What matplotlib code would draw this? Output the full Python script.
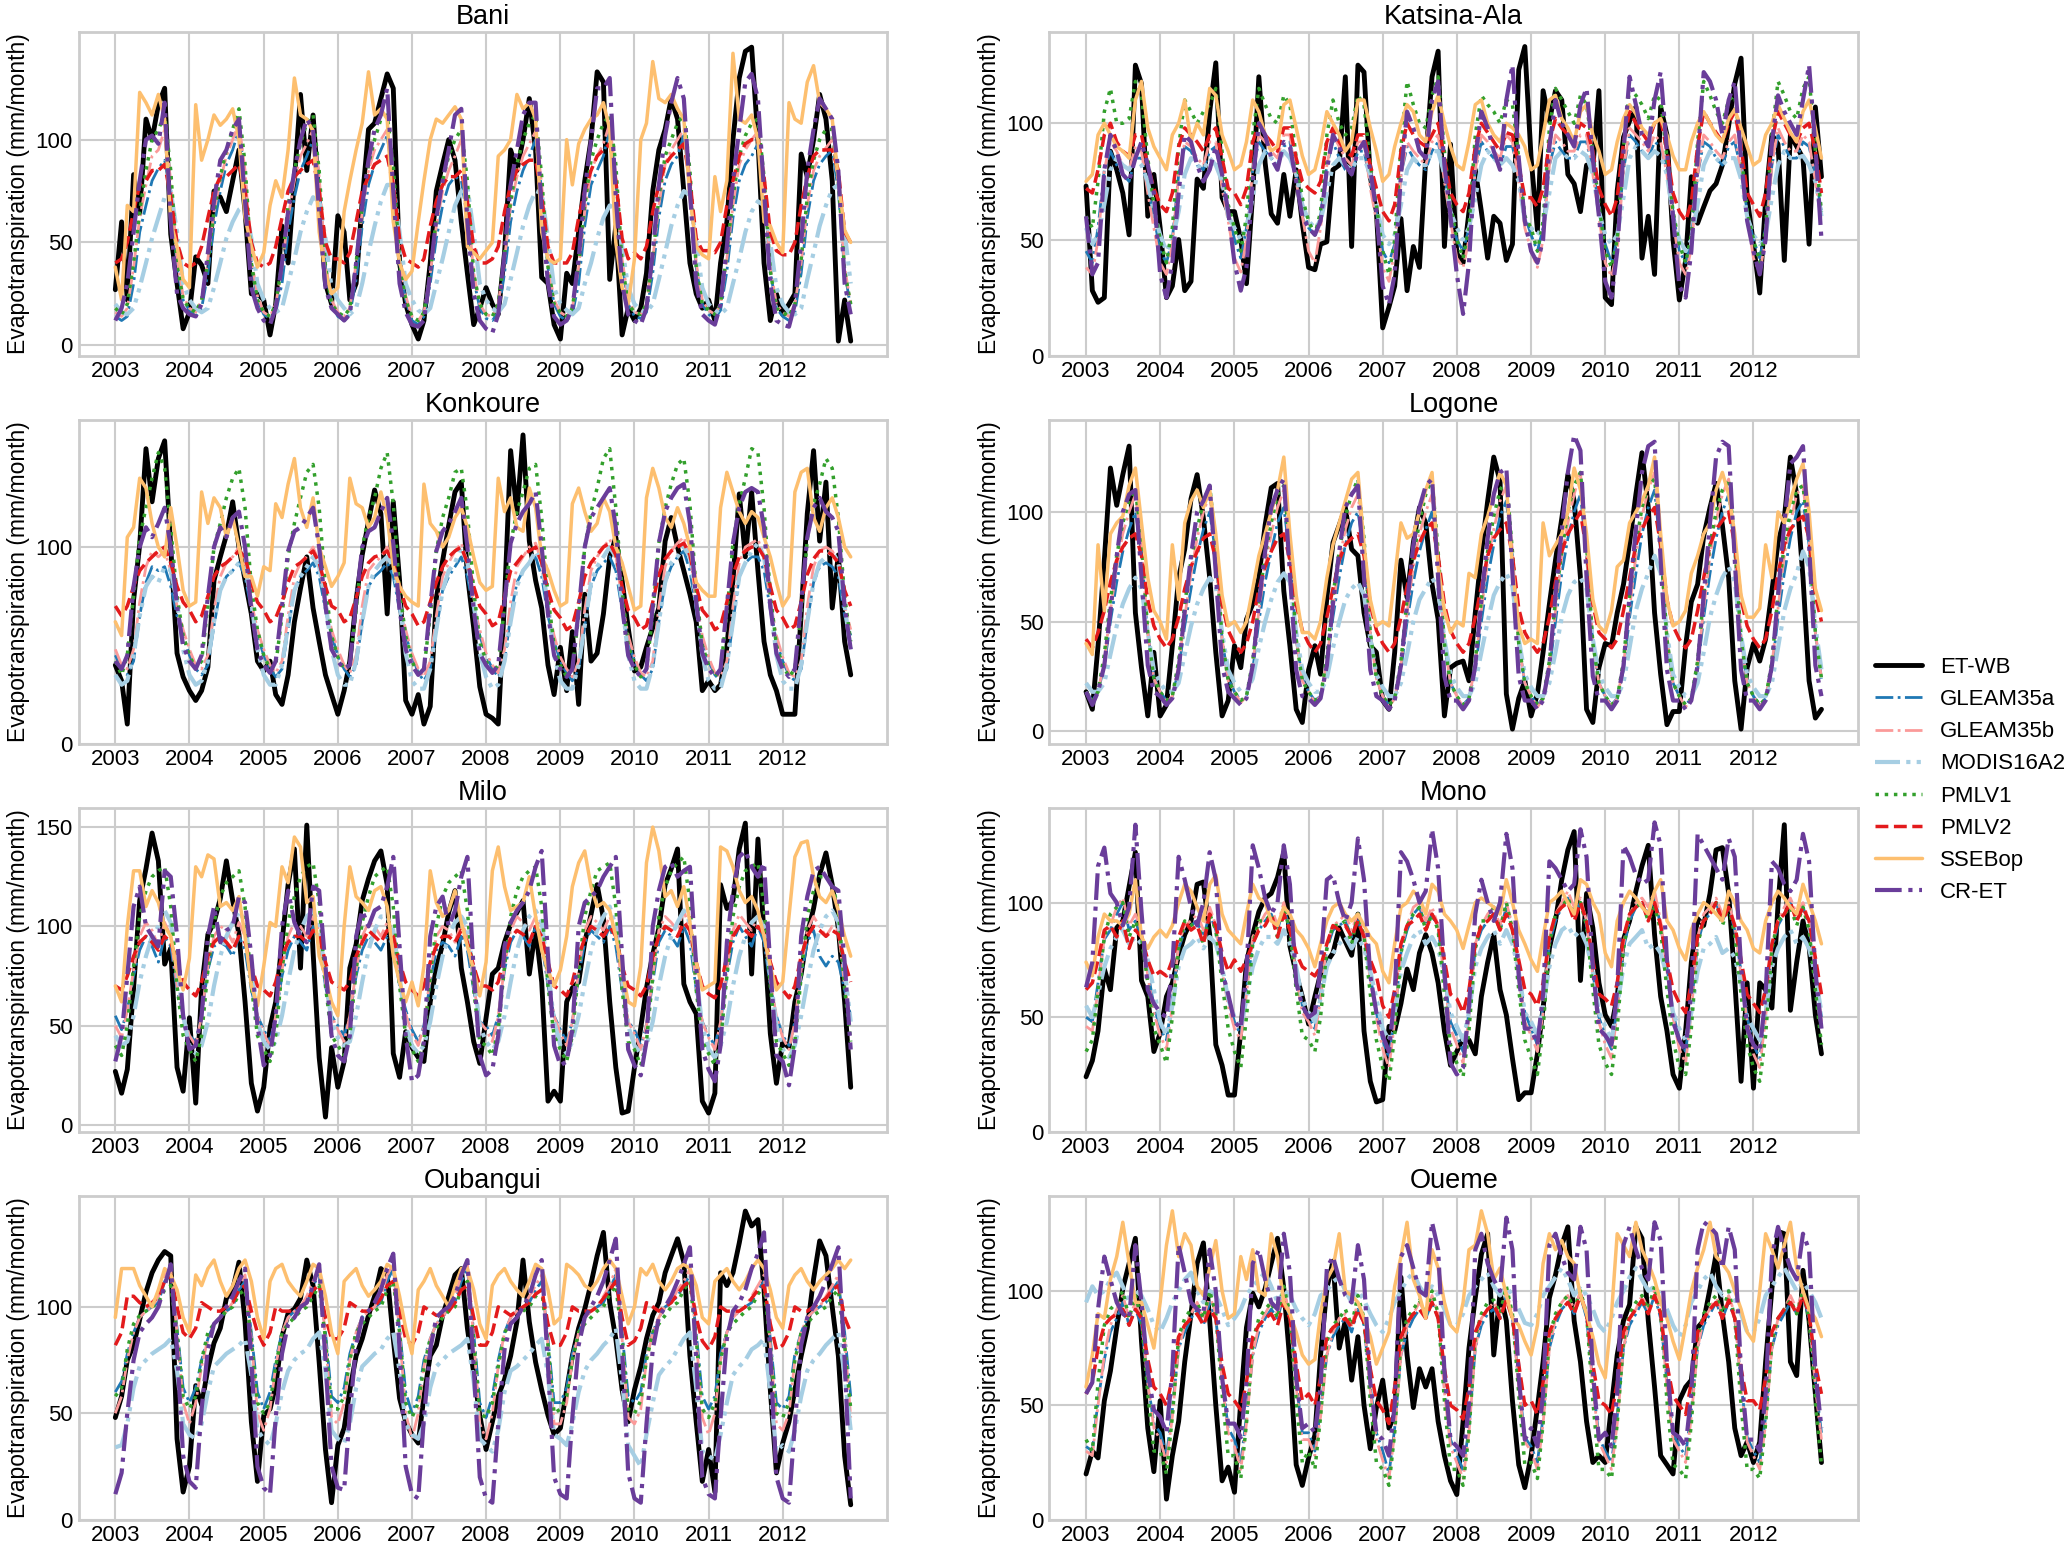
import numpy as np
import pandas as pd
import matplotlib
matplotlib.use('Agg')
import matplotlib.pyplot as plt

# Monthly ET (mm/month), Jan 2003 - Dec 2012
months = pd.date_range('2003-01-01', periods=120, freq='MS')
years = list(range(2003, 2013))
basins = ['Bani', 'Katsina-Ala', 'Konkoure', 'Logone', 'Milo', 'Mono', 'Oubangui', 'Oueme']
products = ['ET-WB', 'GLEAM35a', 'GLEAM35b', 'MODIS16A2', 'PMLV1', 'PMLV2', 'SSEBop', 'CR-ET']
ytick_sets = [[0, 50, 100], [0, 50, 100], [0, 100], [0, 50, 100],
              [0, 50, 100, 150], [0, 50, 100], [0, 50, 100], [0, 50, 100]]

# ---------------- Bani ----------------
bani_etwb = [27, 60, 22, 83, 64, 110, 100, 117, 125, 54, 30, 8,
             16, 43, 39, 30, 75, 72, 65, 80, 95, 65, 25, 25,
             22, 5, 20, 58, 40, 80, 122, 85, 112, 70, 30, 20,
             63, 55, 22, 30, 70, 105, 108, 120, 132, 125, 40, 20,
             10, 3, 12, 40, 75, 88, 100, 90, 60, 35, 10, 18,
             28, 20, 15, 45, 95, 85, 100, 120, 95, 33, 30, 10,
             3, 35, 30, 55, 80, 100, 133, 128, 32, 58, 5, 18,
             12, 18, 35, 75, 95, 105, 120, 110, 75, 40, 25, 18,
             22, 12, 40, 60, 100, 130, 143, 145, 100, 40, 12, 25,
             15, 20, 25, 93, 82, 100, 122, 110, 80, 2, 22, 2]
bani_gleam35a = [14, 12, 14, 30, 55, 68, 80, 86, 90, 75, 38, 22,
                 17, 14, 18, 35, 58, 75, 88, 95, 105, 82, 40, 22,
                 15, 13, 16, 30, 55, 72, 85, 92, 100, 78, 38, 20,
                 14, 12, 15, 32, 58, 78, 88, 95, 102, 80, 40, 22,
                 12, 10, 14, 30, 52, 68, 78, 82, 80, 62, 32, 18,
                 13, 12, 16, 35, 60, 75, 85, 92, 100, 75, 38, 20,
                 14, 12, 15, 30, 58, 78, 85, 92, 105, 80, 40, 20,
                 14, 13, 16, 35, 62, 80, 88, 92, 102, 80, 38, 20,
                 15, 13, 17, 36, 62, 80, 88, 92, 98, 78, 36, 18,
                 14, 12, 16, 35, 62, 80, 88, 92, 95, 75, 36, 18]
bani_gleam35b = [16, 14, 18, 38, 62, 78, 92, 95, 105, 80, 42, 24,
                 18, 16, 22, 42, 65, 80, 92, 100, 108, 85, 42, 24,
                 16, 14, 20, 38, 62, 80, 92, 98, 105, 82, 40, 22,
                 16, 14, 18, 40, 65, 85, 95, 100, 105, 82, 42, 24,
                 14, 12, 16, 35, 58, 75, 85, 92, 100, 70, 35, 20,
                 15, 14, 20, 42, 68, 82, 92, 98, 104, 78, 40, 22,
                 16, 14, 18, 38, 65, 85, 92, 98, 108, 82, 42, 22,
                 16, 15, 20, 42, 68, 88, 95, 100, 105, 82, 40, 22,
                 17, 15, 20, 42, 68, 88, 95, 100, 104, 80, 38, 20,
                 16, 14, 20, 40, 68, 85, 92, 96, 100, 78, 38, 20]
bani_modis = [20, 16, 15, 18, 28, 40, 52, 62, 72, 75, 55, 30,
              22, 18, 16, 18, 28, 40, 52, 60, 66, 68, 52, 30,
              22, 18, 16, 18, 30, 42, 55, 65, 72, 70, 52, 28,
              22, 18, 15, 18, 30, 45, 58, 70, 78, 78, 55, 30,
              22, 17, 15, 18, 30, 42, 55, 68, 75, 77, 55, 30,
              22, 18, 16, 20, 32, 45, 58, 68, 75, 74, 52, 28,
              20, 17, 15, 18, 30, 40, 52, 62, 68, 66, 48, 28,
              20, 17, 16, 20, 32, 45, 58, 68, 75, 73, 50, 28,
              20, 17, 15, 18, 30, 42, 55, 65, 70, 68, 50, 28,
              20, 16, 15, 18, 32, 45, 58, 68, 76, 78, 55, 30]
bani_pmlv1 = [18, 15, 20, 40, 65, 85, 100, 105, 112, 85, 40, 22,
              18, 16, 22, 40, 65, 82, 95, 105, 115, 88, 40, 22,
              16, 14, 20, 40, 68, 85, 98, 108, 112, 85, 38, 20,
              16, 14, 18, 40, 68, 88, 100, 110, 112, 88, 40, 22,
              14, 12, 16, 35, 62, 80, 92, 100, 105, 80, 35, 20,
              15, 14, 20, 45, 70, 88, 100, 108, 112, 82, 38, 20,
              16, 14, 18, 40, 68, 90, 100, 108, 112, 88, 40, 20,
              16, 15, 20, 42, 72, 92, 100, 108, 112, 85, 38, 20,
              17, 15, 20, 45, 72, 92, 102, 108, 110, 82, 36, 18,
              16, 14, 20, 42, 72, 90, 100, 105, 105, 80, 36, 20]
bani_pmlv2 = [40, 42, 50, 65, 78, 80, 85, 85, 88, 72, 50, 40,
              38, 40, 48, 62, 75, 82, 82, 85, 88, 75, 50, 40,
              38, 40, 48, 62, 75, 82, 85, 88, 90, 75, 50, 42,
              42, 40, 45, 60, 75, 82, 88, 90, 92, 78, 52, 42,
              40, 38, 42, 58, 70, 78, 82, 82, 85, 70, 48, 40,
              40, 42, 48, 65, 78, 85, 88, 90, 90, 72, 48, 40,
              40, 40, 45, 62, 75, 85, 92, 95, 98, 80, 52, 42,
              45, 42, 48, 65, 78, 88, 92, 95, 98, 80, 52, 46,
              46, 45, 50, 68, 80, 92, 98, 100, 100, 82, 55, 46,
              44, 44, 50, 68, 82, 92, 95, 95, 95, 85, 55, 50]
bani_ssebop = [38, 22, 68, 65, 123, 118, 112, 122, 110, 60, 48, 32,
               28, 117, 90, 100, 112, 107, 110, 115, 100, 62, 48, 38,
               45, 68, 80, 72, 95, 130, 112, 110, 104, 55, 35, 25,
               28, 65, 80, 95, 108, 133, 112, 115, 110, 60, 40, 32,
               36, 60, 80, 100, 110, 108, 112, 116, 110, 48, 45, 42,
               46, 50, 92, 95, 100, 122, 115, 118, 110, 55, 42, 40,
               42, 100, 78, 98, 105, 110, 112, 118, 105, 50, 28, 20,
               42, 100, 108, 138, 120, 118, 122, 115, 110, 72, 48, 44,
               42, 82, 65, 80, 142, 110, 108, 112, 100, 60, 58, 50,
               45, 118, 110, 108, 128, 136, 118, 115, 110, 80, 56, 50]
bani_cret = [12, 18, 30, 55, 80, 100, 102, 98, 118, 60, 25, 18,
             15, 14, 20, 45, 70, 90, 95, 105, 110, 70, 28, 18,
             12, 10, 18, 40, 65, 85, 100, 110, 105, 65, 28, 18,
             15, 12, 15, 40, 68, 90, 105, 112, 125, 75, 30, 16,
             10, 9, 12, 35, 62, 80, 95, 112, 115, 60, 25, 12,
             8, 6, 15, 45, 78, 95, 112, 118, 118, 65, 30, 14,
             10, 12, 18, 42, 75, 100, 125, 125, 130, 72, 30, 15,
             12, 10, 18, 45, 78, 102, 118, 130, 120, 75, 30, 15,
             12, 10, 20, 48, 80, 105, 128, 132, 120, 75, 30, 12,
             10, 9, 20, 50, 85, 105, 120, 115, 110, 85, 30, 15]

# ---------------- Katsina-Ala ----------------
katsina_etwb = [73, 28, 23, 25, 88, 80, 70, 52, 125, 117, 60, 78,
                55, 25, 30, 50, 28, 32, 76, 72, 105, 126, 68, 62,
                62, 50, 31, 70, 120, 83, 61, 57, 78, 60, 80, 57,
                38, 37, 48, 49, 80, 82, 120, 47, 125, 122, 77, 62,
                12, 21, 30, 59, 28, 47, 38, 85, 120, 131, 47, 91,
                44, 40, 62, 80, 62, 42, 60, 57, 41, 48, 123, 133,
                85, 54, 114, 101, 114, 110, 78, 74, 62, 82, 81, 114,
                25, 22, 71, 94, 101, 107, 42, 60, 35, 107, 95, 50,
                24, 41, 77, 57, 64, 71, 74, 82, 99, 117, 128, 68,
                48, 27, 67, 95, 91, 41, 95, 90, 85, 48, 107, 77]
katsina_gleam35a = [45, 40, 55, 80, 88, 82, 78, 75, 85, 85, 72, 60,
                    45, 40, 50, 78, 90, 88, 82, 80, 88, 90, 75, 62,
                    50, 42, 55, 80, 92, 88, 85, 82, 90, 92, 78, 65,
                    55, 52, 60, 82, 92, 85, 80, 78, 88, 88, 75, 62,
                    45, 40, 48, 78, 90, 85, 82, 80, 88, 92, 78, 62,
                    50, 45, 55, 80, 92, 88, 85, 82, 90, 90, 78, 60,
                    52, 45, 55, 82, 92, 88, 85, 85, 92, 92, 80, 65,
                    48, 40, 50, 80, 95, 92, 88, 85, 92, 90, 80, 62,
                    45, 40, 50, 78, 92, 90, 85, 82, 90, 92, 80, 62,
                    50, 42, 55, 82, 95, 90, 85, 85, 92, 90, 78, 62]
katsina_gleam35b = [38, 35, 50, 80, 92, 88, 82, 80, 90, 88, 70, 55,
                    40, 35, 48, 78, 92, 90, 85, 82, 92, 92, 72, 58,
                    42, 36, 50, 80, 95, 92, 88, 85, 95, 95, 75, 60,
                    45, 40, 55, 82, 95, 90, 85, 82, 92, 92, 72, 58,
                    38, 32, 45, 78, 92, 88, 85, 82, 92, 95, 75, 58,
                    42, 38, 50, 80, 95, 92, 88, 85, 95, 92, 75, 55,
                    45, 38, 50, 82, 95, 92, 88, 88, 95, 95, 78, 60,
                    40, 34, 45, 80, 98, 95, 92, 88, 95, 92, 78, 58,
                    40, 35, 46, 78, 95, 92, 88, 85, 92, 95, 78, 60,
                    42, 36, 50, 82, 98, 92, 88, 88, 95, 92, 75, 58]
katsina_modis = [55, 48, 52, 65, 80, 85, 82, 80, 85, 82, 75, 62,
                 52, 45, 50, 62, 78, 85, 82, 80, 85, 82, 75, 60,
                 55, 50, 55, 68, 82, 88, 85, 82, 88, 85, 78, 65,
                 58, 55, 58, 70, 82, 85, 82, 80, 85, 85, 78, 65,
                 52, 48, 52, 65, 80, 85, 82, 82, 88, 88, 78, 62,
                 55, 50, 55, 68, 82, 88, 85, 82, 85, 82, 75, 58,
                 55, 52, 56, 70, 85, 88, 85, 85, 88, 86, 78, 62,
                 52, 48, 52, 68, 85, 90, 88, 85, 88, 86, 78, 60,
                 50, 45, 50, 65, 82, 88, 85, 82, 85, 85, 76, 60,
                 52, 48, 52, 68, 82, 88, 85, 85, 86, 82, 75, 60]
katsina_pmlv1 = [60, 55, 75, 105, 115, 100, 100, 102, 118, 112, 85, 65,
                 50, 40, 55, 90, 110, 105, 100, 105, 108, 115, 88, 65,
                 55, 45, 60, 95, 115, 108, 102, 100, 112, 108, 85, 68,
                 58, 52, 62, 95, 110, 100, 95, 98, 112, 108, 82, 65,
                 45, 35, 50, 90, 118, 108, 100, 98, 112, 120, 88, 65,
                 50, 42, 55, 95, 112, 108, 105, 100, 110, 108, 85, 60,
                 55, 45, 58, 98, 115, 110, 105, 100, 112, 108, 88, 65,
                 45, 38, 50, 90, 115, 112, 108, 102, 112, 110, 85, 62,
                 48, 40, 52, 92, 118, 112, 105, 100, 110, 112, 88, 62,
                 50, 40, 55, 95, 118, 112, 105, 102, 115, 120, 88, 62]
katsina_pmlv2 = [72, 70, 80, 95, 100, 92, 88, 86, 95, 95, 82, 72,
                 65, 62, 70, 90, 98, 95, 92, 88, 95, 98, 85, 72,
                 70, 65, 72, 92, 100, 95, 92, 88, 98, 98, 85, 75,
                 72, 70, 75, 92, 98, 92, 88, 86, 95, 95, 82, 72,
                 62, 58, 65, 88, 100, 95, 92, 90, 95, 100, 85, 70,
                 65, 62, 70, 90, 100, 96, 92, 88, 96, 95, 82, 68,
                 68, 64, 72, 92, 102, 98, 95, 92, 100, 98, 88, 72,
                 65, 60, 68, 92, 105, 100, 96, 92, 100, 102, 88, 70,
                 62, 58, 66, 90, 105, 100, 96, 92, 100, 105, 90, 70,
                 65, 60, 70, 92, 105, 100, 95, 92, 98, 100, 88, 70]
katsina_ssebop = [75, 78, 95, 100, 95, 90, 88, 85, 110, 118, 98, 90,
                  85, 80, 95, 100, 110, 92, 100, 95, 115, 112, 95, 88,
                  80, 82, 92, 110, 105, 95, 88, 90, 108, 110, 98, 86,
                  78, 80, 90, 105, 100, 95, 88, 92, 110, 110, 98, 88,
                  75, 78, 90, 100, 108, 105, 95, 92, 105, 112, 100, 90,
                  82, 80, 92, 108, 110, 100, 95, 92, 100, 98, 95, 90,
                  80, 82, 95, 110, 112, 102, 98, 92, 105, 108, 95, 88,
                  78, 80, 92, 102, 108, 104, 98, 95, 100, 102, 95, 86,
                  80, 80, 92, 100, 105, 100, 95, 92, 102, 106, 98, 90,
                  82, 84, 95, 100, 108, 102, 96, 92, 105, 110, 98, 85]
katsina_cret = [60, 35, 40, 80, 95, 88, 78, 75, 85, 92, 82, 70,
                35, 25, 40, 70, 95, 92, 82, 75, 80, 90, 78, 62,
                40, 28, 38, 75, 100, 95, 85, 80, 92, 90, 75, 60,
                55, 52, 58, 80, 95, 90, 82, 78, 88, 92, 80, 62,
                30, 22, 35, 78, 105, 98, 88, 85, 110, 118, 82, 60,
                35, 18, 40, 85, 105, 98, 88, 80, 110, 125, 85, 58,
                45, 40, 50, 90, 110, 100, 95, 90, 108, 115, 85, 60,
                32, 25, 45, 88, 120, 108, 95, 90, 110, 122, 88, 60,
                30, 25, 45, 85, 122, 118, 110, 95, 110, 118, 85, 58,
                45, 35, 50, 92, 112, 105, 100, 95, 110, 125, 90, 50]

# ---------------- Konkoure ----------------
konkoure_etwb = [40, 32, 10, 73, 101, 150, 123, 145, 154, 100, 46, 34,
                 27, 22, 27, 39, 83, 95, 106, 123, 100, 83, 66, 42,
                 37, 42, 25, 20, 35, 62, 79, 95, 69, 52, 35, 25,
                 15, 27, 42, 73, 96, 113, 129, 117, 66, 123, 83, 22,
                 15, 25, 10, 19, 74, 93, 111, 128, 133, 86, 59, 29,
                 15, 13, 10, 73, 149, 117, 157, 103, 83, 69, 40, 25,
                 49, 27, 57, 20, 76, 42, 46, 66, 95, 105, 83, 59,
                 37, 39, 49, 59, 69, 103, 115, 100, 88, 76, 62, 27,
                 32, 27, 30, 49, 83, 127, 95, 128, 88, 52, 35, 27,
                 15, 15, 15, 66, 117, 149, 103, 133, 69, 96, 52, 35]
konkoure_gleam35a = [45, 38, 35, 42, 65, 82, 90, 88, 90, 80, 65, 55,
                     45, 38, 35, 40, 60, 78, 85, 88, 92, 85, 68, 55,
                     45, 38, 34, 38, 58, 78, 85, 88, 92, 85, 68, 55,
                     45, 38, 34, 40, 62, 80, 85, 88, 92, 85, 68, 55,
                     45, 36, 32, 38, 58, 78, 85, 90, 95, 85, 68, 55,
                     45, 38, 34, 42, 65, 82, 88, 92, 95, 85, 65, 52,
                     42, 36, 32, 38, 60, 80, 88, 92, 95, 88, 68, 52,
                     42, 35, 32, 38, 62, 82, 90, 95, 98, 88, 68, 52,
                     42, 35, 32, 38, 62, 85, 92, 95, 95, 88, 68, 52,
                     42, 35, 32, 38, 62, 82, 90, 92, 90, 85, 65, 55]
konkoure_gleam35b = [48, 40, 38, 48, 72, 90, 98, 95, 98, 88, 70, 58,
                     48, 40, 38, 45, 68, 85, 92, 95, 100, 92, 72, 58,
                     48, 40, 36, 42, 65, 85, 92, 95, 100, 92, 72, 58,
                     48, 40, 36, 45, 70, 88, 92, 95, 100, 92, 72, 58,
                     46, 38, 34, 42, 65, 85, 92, 98, 102, 92, 70, 58,
                     46, 40, 36, 48, 72, 90, 95, 100, 102, 92, 70, 55,
                     44, 38, 34, 42, 68, 88, 95, 100, 104, 96, 72, 55,
                     44, 36, 34, 42, 70, 90, 98, 102, 105, 96, 72, 55,
                     44, 36, 34, 42, 70, 92, 100, 102, 104, 95, 72, 55,
                     44, 36, 34, 42, 70, 90, 98, 100, 98, 92, 70, 58]
konkoure_modis = [35, 30, 32, 45, 65, 80, 85, 82, 90, 88, 72, 48,
                  35, 30, 32, 42, 62, 78, 85, 88, 92, 90, 72, 48,
                  35, 30, 30, 40, 60, 78, 85, 90, 95, 90, 72, 48,
                  35, 30, 30, 42, 62, 80, 88, 92, 95, 90, 72, 46,
                  32, 28, 28, 38, 58, 78, 88, 92, 100, 92, 72, 46,
                  34, 28, 30, 42, 62, 80, 88, 92, 98, 92, 70, 45,
                  32, 28, 28, 40, 60, 82, 90, 95, 100, 95, 72, 45,
                  32, 28, 28, 40, 62, 82, 92, 95, 100, 95, 72, 45,
                  32, 28, 28, 40, 62, 85, 92, 98, 102, 95, 72, 45,
                  32, 28, 28, 40, 62, 82, 92, 95, 98, 92, 70, 48]
konkoure_pmlv1 = [42, 35, 45, 75, 105, 120, 135, 148, 140, 110, 75, 55,
                  45, 38, 42, 70, 100, 112, 125, 135, 140, 120, 80, 58,
                  45, 38, 40, 65, 95, 112, 125, 138, 142, 120, 80, 55,
                  44, 38, 40, 68, 100, 115, 125, 140, 148, 122, 78, 55,
                  42, 35, 38, 65, 98, 115, 125, 138, 140, 118, 78, 52,
                  42, 36, 40, 70, 102, 118, 128, 140, 142, 115, 75, 50,
                  40, 34, 38, 65, 100, 118, 130, 145, 150, 120, 78, 50,
                  40, 34, 38, 66, 102, 120, 132, 142, 145, 122, 78, 50,
                  40, 34, 38, 66, 102, 122, 135, 150, 148, 120, 76, 50,
                  40, 34, 38, 66, 104, 122, 132, 145, 140, 115, 75, 52]
konkoure_pmlv2 = [70, 65, 70, 80, 88, 92, 95, 98, 100, 92, 80, 72,
                  68, 62, 65, 75, 85, 90, 92, 95, 98, 95, 82, 72,
                  68, 62, 64, 72, 82, 90, 92, 95, 98, 92, 80, 70,
                  68, 62, 64, 74, 85, 92, 95, 96, 98, 92, 80, 70,
                  66, 60, 62, 72, 82, 90, 95, 98, 100, 92, 80, 70,
                  66, 60, 62, 75, 88, 92, 96, 98, 100, 92, 78, 68,
                  64, 58, 60, 72, 85, 92, 96, 100, 102, 96, 80, 68,
                  64, 58, 60, 72, 86, 94, 98, 100, 102, 96, 80, 68,
                  64, 58, 60, 72, 86, 95, 98, 100, 100, 95, 80, 68,
                  64, 58, 60, 72, 86, 94, 98, 98, 96, 92, 78, 70]
konkoure_ssebop = [62, 55, 105, 110, 135, 130, 112, 100, 95, 120, 100, 78,
                   70, 72, 128, 112, 125, 120, 105, 115, 100, 85, 85, 75,
                   90, 88, 122, 115, 132, 145, 120, 110, 125, 100, 90, 80,
                   85, 92, 135, 122, 120, 110, 115, 128, 115, 90, 80, 75,
                   72, 70, 132, 112, 108, 100, 105, 115, 120, 110, 95, 82,
                   78, 80, 135, 118, 125, 110, 108, 130, 120, 95, 88, 78,
                   70, 72, 122, 130, 118, 108, 112, 125, 118, 100, 92, 80,
                   68, 70, 125, 140, 130, 115, 110, 120, 112, 100, 82, 78,
                   75, 75, 120, 138, 128, 118, 112, 118, 115, 105, 95, 82,
                   70, 75, 128, 138, 140, 115, 108, 120, 125, 115, 100, 95]
konkoure_cret = [42, 38, 45, 80, 100, 110, 105, 112, 120, 100, 70, 50,
                 42, 38, 45, 75, 100, 110, 105, 115, 118, 100, 68, 48,
                 40, 36, 42, 70, 98, 108, 110, 115, 120, 100, 70, 48,
                 42, 38, 40, 72, 100, 108, 110, 118, 125, 102, 68, 48,
                 40, 35, 38, 70, 98, 108, 112, 118, 125, 100, 68, 46,
                 40, 36, 40, 72, 102, 112, 118, 122, 128, 100, 66, 45,
                 38, 34, 38, 68, 100, 115, 120, 125, 130, 110, 70, 45,
                 38, 34, 38, 70, 102, 118, 125, 130, 132, 112, 72, 46,
                 38, 34, 38, 70, 102, 120, 128, 130, 128, 110, 70, 46,
                 38, 34, 38, 72, 105, 120, 125, 118, 115, 108, 70, 48]

# ---------------- Logone ----------------
logone_etwb = [18, 10, 39, 78, 120, 103, 117, 130, 54, 29, 7, 36,
               7, 12, 39, 70, 83, 106, 117, 97, 70, 36, 7, 14,
               39, 29, 51, 58, 70, 94, 111, 113, 64, 39, 10, 4,
               28, 39, 26, 61, 86, 94, 102, 83, 80, 54, 39, 36,
               14, 10, 36, 78, 61, 86, 102, 95, 67, 51, 7, 29,
               31, 32, 23, 54, 81, 105, 125, 114, 17, 1, 15, 23,
               7, 17, 36, 58, 78, 97, 117, 105, 70, 10, 4, 29,
               40, 39, 54, 67, 86, 108, 127, 102, 54, 26, 3, 9,
               9, 39, 59, 67, 89, 102, 113, 94, 70, 23, 1, 29,
               40, 32, 42, 64, 86, 97, 125, 108, 70, 23, 6, 10]
logone_gleam35a = [18, 14, 18, 30, 50, 68, 82, 92, 100, 82, 45, 25,
                   18, 14, 16, 28, 48, 65, 80, 92, 100, 80, 42, 24,
                   18, 14, 16, 28, 50, 68, 82, 95, 102, 80, 42, 24,
                   18, 14, 16, 30, 52, 70, 85, 95, 100, 82, 45, 25,
                   16, 12, 15, 28, 50, 68, 82, 92, 100, 78, 40, 22,
                   16, 12, 15, 28, 50, 70, 85, 98, 105, 80, 40, 22,
                   16, 12, 15, 28, 50, 72, 88, 100, 108, 80, 40, 22,
                   16, 12, 15, 28, 52, 72, 90, 102, 110, 82, 42, 22,
                   16, 12, 15, 28, 52, 72, 88, 100, 108, 82, 42, 22,
                   16, 12, 15, 28, 52, 72, 88, 100, 105, 85, 45, 24]
logone_gleam35b = [18, 13, 18, 32, 55, 75, 90, 100, 108, 85, 45, 24,
                   18, 13, 16, 30, 52, 72, 88, 100, 108, 82, 42, 23,
                   18, 13, 16, 30, 55, 75, 90, 102, 110, 82, 42, 23,
                   18, 13, 16, 32, 56, 78, 92, 102, 108, 85, 45, 24,
                   16, 11, 15, 30, 54, 75, 90, 100, 108, 80, 40, 22,
                   16, 11, 15, 30, 55, 78, 92, 105, 112, 82, 40, 22,
                   16, 11, 15, 30, 55, 80, 95, 108, 118, 82, 40, 22,
                   16, 11, 15, 30, 56, 80, 98, 110, 118, 85, 42, 22,
                   16, 11, 15, 30, 56, 80, 96, 108, 115, 85, 42, 22,
                   16, 11, 15, 30, 56, 80, 95, 108, 112, 88, 45, 24]
logone_modis = [22, 18, 18, 22, 35, 48, 58, 65, 70, 65, 45, 28,
                22, 18, 18, 22, 35, 48, 58, 65, 70, 66, 45, 28,
                22, 18, 18, 24, 38, 50, 60, 68, 72, 68, 45, 28,
                22, 18, 18, 24, 38, 50, 60, 65, 68, 62, 42, 26,
                20, 16, 16, 22, 35, 50, 60, 65, 70, 65, 42, 26,
                20, 16, 16, 22, 36, 50, 62, 68, 72, 66, 42, 26,
                20, 16, 16, 22, 36, 52, 62, 68, 70, 65, 42, 26,
                20, 16, 16, 22, 38, 55, 65, 72, 80, 72, 45, 26,
                20, 16, 16, 22, 36, 52, 62, 70, 75, 68, 44, 26,
                20, 16, 16, 22, 38, 55, 65, 72, 82, 75, 48, 28]
logone_pmlv1 = [18, 14, 18, 35, 60, 80, 95, 105, 110, 88, 45, 24,
                18, 14, 16, 32, 58, 78, 92, 105, 112, 85, 42, 23,
                18, 14, 16, 32, 60, 80, 95, 108, 112, 85, 42, 23,
                18, 14, 16, 34, 62, 82, 98, 108, 115, 88, 45, 24,
                16, 12, 15, 32, 60, 80, 95, 108, 115, 82, 40, 22,
                16, 12, 15, 32, 60, 82, 98, 110, 115, 82, 40, 22,
                16, 12, 15, 32, 60, 82, 100, 112, 118, 85, 40, 22,
                16, 12, 15, 32, 62, 85, 102, 112, 115, 85, 42, 22,
                16, 12, 15, 32, 62, 85, 100, 110, 115, 85, 42, 22,
                16, 12, 15, 32, 62, 85, 100, 110, 112, 88, 45, 24]
logone_pmlv2 = [42, 38, 45, 55, 68, 78, 84, 88, 90, 80, 60, 48,
                42, 38, 42, 52, 65, 75, 82, 88, 90, 78, 58, 46,
                40, 36, 40, 50, 65, 75, 82, 88, 90, 78, 58, 46,
                40, 36, 40, 52, 65, 78, 85, 88, 90, 80, 58, 46,
                40, 36, 40, 52, 66, 78, 86, 92, 95, 80, 58, 46,
                40, 36, 40, 52, 66, 80, 88, 92, 95, 80, 56, 45,
                40, 36, 40, 52, 68, 82, 90, 95, 100, 82, 58, 45,
                42, 38, 42, 55, 70, 85, 92, 98, 102, 85, 60, 48,
                42, 38, 42, 55, 70, 85, 92, 96, 100, 85, 60, 48,
                42, 38, 42, 55, 72, 85, 92, 96, 98, 88, 62, 50]
logone_ssebop = [40, 35, 85, 55, 90, 95, 98, 112, 120, 95, 70, 55,
                 50, 42, 85, 60, 95, 105, 110, 102, 110, 90, 62, 48,
                 50, 45, 50, 65, 80, 90, 100, 110, 125, 90, 62, 45,
                 45, 42, 50, 70, 85, 95, 105, 115, 118, 85, 60, 48,
                 50, 48, 70, 95, 88, 90, 100, 110, 118, 75, 55, 45,
                 50, 48, 72, 70, 90, 98, 108, 118, 112, 75, 48, 40,
                 42, 40, 95, 80, 85, 90, 100, 120, 110, 90, 60, 48,
                 45, 55, 75, 78, 95, 100, 105, 112, 125, 90, 60, 48,
                 50, 55, 72, 80, 90, 95, 110, 118, 108, 90, 62, 52,
                 52, 56, 85, 70, 100, 95, 105, 115, 122, 100, 65, 55]
logone_cret = [18, 12, 18, 30, 55, 80, 100, 108, 110, 70, 30, 18,
               16, 12, 15, 28, 55, 80, 100, 105, 112, 72, 30, 18,
               15, 12, 15, 30, 58, 82, 102, 110, 115, 72, 28, 16,
               15, 12, 15, 30, 58, 82, 102, 108, 112, 70, 28, 16,
               14, 10, 14, 30, 58, 85, 102, 112, 115, 70, 25, 14,
               14, 10, 14, 30, 60, 88, 108, 118, 120, 72, 25, 14,
               14, 10, 14, 30, 62, 92, 118, 135, 128, 70, 25, 14,
               14, 10, 14, 30, 62, 92, 118, 130, 132, 78, 28, 14,
               14, 10, 14, 30, 62, 95, 125, 132, 130, 78, 28, 14,
               14, 10, 14, 30, 62, 95, 122, 125, 130, 85, 30, 16]

# ---------------- Milo ----------------
milo_etwb = [27, 16, 28, 69, 113, 129, 147, 133, 81, 89, 29, 17,
             54, 11, 69, 96, 102, 114, 133, 113, 96, 62, 21, 7,
             19, 49, 62, 92, 121, 139, 79, 151, 87, 34, 4, 39,
             19, 32, 79, 91, 113, 124, 133, 138, 121, 36, 24, 47,
             39, 34, 32, 62, 79, 91, 107, 118, 79, 62, 42, 31,
             54, 76, 79, 92, 101, 107, 113, 76, 99, 72, 12, 17,
             12, 62, 69, 72, 92, 106, 121, 104, 62, 29, 6, 7,
             29, 49, 69, 86, 99, 121, 129, 139, 71, 62, 56, 12,
             6, 16, 121, 109, 113, 139, 152, 76, 144, 96, 46, 21,
             42, 39, 62, 76, 96, 109, 126, 137, 121, 99, 62, 19]
milo_gleam35a = [55, 48, 58, 75, 88, 95, 90, 82, 95, 90, 68, 55,
                 45, 42, 55, 78, 90, 92, 90, 85, 95, 88, 68, 55,
                 48, 42, 55, 75, 88, 95, 92, 88, 100, 92, 70, 55,
                 50, 45, 55, 75, 88, 95, 92, 88, 95, 90, 70, 58,
                 48, 42, 50, 72, 88, 92, 90, 85, 95, 88, 68, 52,
                 50, 45, 55, 78, 92, 98, 95, 90, 100, 92, 70, 55,
                 48, 42, 52, 75, 92, 98, 95, 92, 100, 90, 68, 52,
                 48, 40, 50, 72, 92, 98, 95, 90, 100, 92, 68, 52,
                 45, 40, 52, 75, 92, 100, 95, 90, 100, 92, 70, 55,
                 45, 40, 52, 75, 92, 98, 85, 80, 85, 82, 68, 55]
milo_gleam35b = [50, 44, 58, 78, 95, 102, 98, 90, 102, 95, 70, 55,
                 45, 40, 55, 80, 95, 100, 98, 92, 102, 95, 70, 55,
                 46, 40, 55, 78, 95, 102, 100, 95, 105, 98, 72, 55,
                 48, 42, 55, 78, 95, 102, 100, 95, 102, 95, 72, 56,
                 46, 40, 50, 75, 95, 100, 98, 92, 102, 95, 70, 52,
                 48, 42, 55, 80, 98, 105, 102, 98, 105, 98, 72, 55,
                 46, 40, 52, 78, 98, 105, 102, 98, 105, 96, 70, 52,
                 46, 38, 50, 75, 98, 105, 102, 98, 108, 98, 70, 52,
                 44, 38, 52, 78, 98, 106, 102, 98, 105, 98, 72, 55,
                 44, 38, 52, 78, 98, 105, 100, 95, 100, 98, 70, 52]
milo_modis = [45, 40, 42, 55, 72, 85, 95, 100, 108, 102, 80, 55,
              40, 36, 40, 52, 70, 85, 95, 102, 108, 102, 78, 52,
              42, 38, 42, 55, 72, 88, 98, 105, 108, 100, 75, 52,
              44, 40, 42, 55, 72, 88, 98, 105, 105, 98, 75, 50,
              40, 36, 40, 52, 70, 85, 95, 102, 105, 100, 75, 50,
              42, 38, 42, 55, 72, 88, 98, 105, 108, 102, 78, 52,
              40, 36, 42, 55, 72, 88, 98, 105, 110, 100, 75, 50,
              40, 36, 40, 52, 70, 85, 95, 102, 108, 102, 75, 50,
              38, 34, 40, 52, 70, 85, 95, 102, 105, 100, 75, 50,
              38, 34, 40, 55, 72, 88, 98, 105, 108, 102, 78, 52]
milo_pmlv1 = [40, 35, 50, 80, 105, 118, 125, 128, 130, 110, 70, 45,
              38, 32, 45, 78, 102, 115, 122, 125, 128, 110, 70, 45,
              38, 32, 45, 78, 102, 115, 125, 130, 132, 112, 70, 45,
              40, 35, 45, 78, 102, 115, 125, 128, 130, 110, 70, 45,
              38, 32, 42, 75, 100, 115, 122, 125, 128, 108, 68, 42,
              40, 35, 48, 80, 105, 118, 125, 128, 130, 110, 70, 45,
              38, 32, 45, 78, 105, 118, 128, 130, 132, 110, 68, 42,
              38, 30, 42, 75, 105, 120, 128, 132, 135, 112, 68, 42,
              36, 30, 42, 75, 105, 120, 128, 130, 132, 110, 70, 42,
              36, 30, 42, 75, 105, 118, 125, 125, 122, 108, 68, 42]
milo_pmlv2 = [70, 68, 75, 85, 92, 95, 92, 88, 95, 92, 82, 72,
              68, 65, 72, 85, 92, 95, 92, 88, 95, 92, 80, 70,
              68, 65, 72, 85, 92, 95, 95, 92, 98, 95, 82, 72,
              70, 68, 72, 85, 92, 98, 95, 92, 98, 95, 82, 72,
              68, 65, 70, 82, 90, 95, 95, 92, 98, 92, 80, 70,
              70, 68, 72, 85, 94, 98, 96, 92, 100, 95, 82, 70,
              68, 65, 72, 85, 94, 100, 98, 95, 100, 95, 80, 70,
              68, 65, 70, 85, 95, 100, 98, 95, 102, 98, 82, 70,
              66, 64, 70, 85, 95, 100, 98, 95, 100, 96, 82, 72,
              68, 64, 70, 85, 95, 100, 98, 95, 98, 96, 82, 72]
milo_ssebop = [70, 62, 100, 128, 128, 110, 118, 112, 100, 95, 78, 68,
               84, 130, 125, 136, 134, 110, 112, 108, 115, 95, 70, 60,
               80, 102, 100, 130, 122, 145, 140, 112, 115, 85, 75, 62,
               55, 100, 130, 115, 112, 108, 118, 120, 110, 85, 72, 62,
               72, 60, 80, 128, 112, 105, 108, 118, 102, 90, 78, 65,
               82, 128, 140, 120, 108, 110, 112, 125, 105, 88, 78, 70,
               78, 95, 120, 132, 138, 120, 110, 112, 108, 95, 78, 62,
               60, 80, 132, 150, 138, 115, 118, 110, 120, 102, 82, 68,
               70, 72, 140, 138, 130, 118, 112, 115, 108, 95, 80, 68,
               72, 105, 135, 142, 143, 125, 115, 112, 118, 108, 95, 85]
milo_cret = [32, 45, 75, 110, 120, 100, 95, 90, 128, 125, 95, 55,
             38, 40, 55, 95, 110, 92, 98, 100, 115, 112, 85, 50,
             30, 35, 55, 100, 118, 102, 95, 92, 120, 118, 80, 45,
             35, 32, 45, 95, 108, 100, 108, 110, 120, 135, 90, 45,
             22, 25, 42, 95, 110, 115, 100, 108, 125, 135, 78, 35,
             25, 28, 45, 90, 102, 108, 112, 118, 130, 138, 85, 40,
             30, 32, 48, 100, 112, 115, 118, 125, 130, 135, 85, 38,
             30, 25, 42, 100, 118, 130, 132, 125, 128, 130, 80, 38,
             28, 22, 40, 92, 118, 135, 138, 130, 125, 132, 80, 35,
             32, 20, 40, 95, 115, 128, 130, 125, 120, 118, 82, 38]

# ---------------- Mono ----------------
mono_etwb = [24, 31, 44, 71, 62, 89, 92, 107, 122, 66, 59, 35,
             43, 59, 65, 77, 86, 92, 108, 109, 86, 38, 29, 16,
             16, 44, 74, 86, 96, 102, 104, 111, 122, 81, 69, 59,
             47, 59, 69, 74, 78, 89, 83, 77, 95, 44, 22, 13,
             14, 46, 44, 56, 71, 62, 78, 86, 78, 65, 44, 29,
             35, 41, 40, 34, 59, 74, 86, 62, 51, 32, 14, 17,
             17, 34, 54, 80, 92, 110, 123, 131, 66, 104, 89, 65,
             51, 46, 59, 84, 92, 105, 116, 125, 86, 59, 44, 25,
             19, 44, 74, 93, 90, 104, 123, 124, 104, 66, 22, 65,
             19, 65, 62, 54, 99, 134, 53, 74, 92, 81, 51, 34]
mono_gleam35a = [50, 48, 65, 84, 88, 95, 100, 88, 92, 85, 70, 55,
                 45, 40, 58, 80, 88, 90, 92, 85, 95, 88, 72, 58,
                 48, 42, 62, 82, 88, 92, 95, 88, 98, 88, 70, 55,
                 50, 45, 60, 80, 88, 90, 92, 85, 92, 85, 68, 52,
                 40, 32, 50, 78, 88, 95, 98, 90, 95, 88, 68, 48,
                 42, 35, 52, 80, 88, 92, 95, 88, 98, 88, 70, 52,
                 45, 38, 55, 82, 92, 98, 102, 95, 100, 90, 70, 50,
                 42, 36, 55, 80, 92, 98, 100, 95, 102, 90, 72, 52,
                 40, 35, 55, 82, 92, 95, 100, 92, 98, 88, 70, 50,
                 38, 32, 52, 80, 90, 95, 100, 92, 98, 90, 72, 50]
mono_gleam35b = [46, 44, 62, 85, 90, 98, 102, 90, 95, 88, 68, 52,
                 42, 36, 55, 82, 90, 92, 95, 88, 98, 90, 70, 55,
                 45, 40, 60, 85, 90, 95, 98, 90, 100, 90, 68, 52,
                 48, 42, 58, 82, 90, 92, 95, 88, 95, 88, 66, 50,
                 36, 28, 48, 80, 90, 98, 100, 92, 98, 90, 66, 45,
                 38, 30, 50, 82, 90, 95, 98, 90, 100, 90, 68, 48,
                 42, 35, 52, 85, 95, 100, 105, 98, 102, 92, 68, 48,
                 38, 32, 52, 82, 95, 100, 102, 98, 105, 92, 70, 50,
                 36, 30, 52, 85, 95, 98, 102, 95, 100, 90, 68, 48,
                 34, 28, 50, 82, 92, 98, 102, 95, 100, 92, 70, 48]
mono_modis = [55, 50, 60, 72, 80, 85, 88, 82, 85, 82, 75, 62,
              48, 42, 55, 72, 80, 82, 85, 80, 85, 82, 72, 58,
              50, 45, 58, 72, 80, 85, 85, 82, 88, 82, 72, 58,
              52, 48, 58, 72, 78, 82, 85, 80, 85, 80, 70, 58,
              45, 40, 52, 70, 78, 85, 88, 82, 85, 80, 68, 52,
              46, 40, 52, 72, 80, 85, 88, 82, 88, 82, 70, 52,
              48, 42, 55, 72, 82, 88, 90, 85, 88, 82, 70, 52,
              46, 40, 55, 72, 82, 85, 88, 80, 82, 78, 68, 52,
              45, 40, 52, 70, 80, 82, 85, 78, 80, 76, 65, 50,
              45, 40, 52, 72, 80, 85, 88, 82, 85, 80, 68, 52]
mono_pmlv1 = [35, 40, 62, 85, 95, 98, 100, 85, 92, 85, 65, 45,
              38, 30, 50, 80, 92, 90, 92, 82, 95, 88, 65, 45,
              35, 28, 50, 82, 92, 92, 95, 85, 98, 88, 62, 42,
              40, 35, 50, 80, 90, 90, 92, 82, 95, 85, 60, 40,
              28, 22, 42, 78, 90, 95, 98, 88, 95, 88, 60, 38,
              30, 24, 44, 80, 92, 92, 98, 88, 100, 88, 62, 40,
              32, 25, 45, 82, 95, 98, 102, 95, 100, 90, 62, 38,
              30, 25, 45, 80, 95, 98, 100, 92, 98, 88, 62, 40,
              28, 25, 45, 82, 92, 95, 100, 90, 98, 86, 60, 38,
              28, 22, 42, 80, 92, 95, 98, 90, 98, 88, 62, 38]
mono_pmlv2 = [62, 65, 75, 88, 90, 85, 92, 80, 88, 85, 75, 68,
              70, 68, 75, 85, 92, 88, 90, 82, 95, 90, 78, 70,
              75, 70, 75, 82, 88, 90, 95, 85, 95, 88, 78, 72,
              70, 68, 72, 82, 90, 88, 90, 85, 92, 85, 75, 68,
              55, 50, 62, 82, 90, 92, 95, 88, 95, 90, 75, 60,
              58, 52, 62, 82, 90, 92, 95, 88, 95, 88, 75, 62,
              60, 55, 65, 85, 95, 98, 100, 92, 100, 92, 75, 60,
              58, 55, 65, 85, 95, 98, 100, 92, 100, 90, 75, 62,
              56, 52, 65, 85, 92, 95, 100, 92, 98, 90, 75, 60,
              56, 52, 62, 82, 92, 95, 100, 92, 98, 92, 76, 60]
mono_ssebop = [74, 68, 85, 95, 92, 92, 90, 95, 110, 85, 80, 85,
               88, 85, 90, 100, 108, 105, 98, 92, 108, 112, 95, 88,
               85, 82, 95, 108, 102, 100, 92, 90, 98, 95, 88, 85,
               80, 72, 82, 92, 98, 100, 95, 92, 95, 90, 85, 82,
               70, 65, 82, 98, 100, 105, 102, 95, 108, 105, 95, 92,
               88, 80, 90, 100, 102, 100, 98, 95, 110, 100, 88, 82,
               75, 70, 85, 100, 102, 105, 100, 95, 110, 108, 100, 95,
               78, 72, 92, 100, 105, 102, 98, 95, 105, 110, 92, 88,
               80, 75, 88, 95, 100, 98, 95, 92, 105, 100, 92, 88,
               80, 78, 92, 100, 105, 102, 98, 95, 108, 100, 92, 82]
mono_cret = [63, 74, 116, 124, 104, 100, 90, 98, 134, 96, 62, 56,
             52, 50, 72, 120, 110, 98, 90, 100, 122, 110, 70, 60,
             48, 45, 70, 125, 115, 102, 95, 100, 125, 108, 65, 55,
             50, 52, 72, 110, 112, 100, 92, 100, 128, 110, 68, 52,
             42, 35, 60, 122, 118, 110, 100, 105, 132, 115, 70, 30,
             25, 28, 55, 95, 110, 100, 92, 100, 130, 115, 68, 45,
             45, 38, 60, 118, 115, 110, 105, 108, 132, 120, 72, 45,
             42, 38, 62, 125, 120, 112, 108, 110, 135, 125, 75, 48,
             40, 35, 62, 130, 125, 120, 115, 110, 128, 120, 72, 45,
             38, 35, 60, 118, 115, 108, 105, 110, 130, 118, 70, 45]

# ---------------- Oubangui ----------------
oubangui_etwb = [48, 58, 75, 82, 94, 107, 116, 122, 126, 124, 38, 13,
                 25, 63, 54, 71, 83, 90, 104, 108, 121, 93, 46, 18,
                 49, 52, 63, 86, 97, 99, 104, 122, 110, 74, 33, 8,
                 35, 43, 61, 77, 85, 96, 105, 118, 115, 85, 57, 46,
                 40, 36, 58, 77, 82, 96, 105, 115, 118, 90, 69, 49,
                 33, 46, 58, 66, 77, 93, 122, 93, 74, 61, 49, 40,
                 43, 61, 77, 90, 99, 111, 124, 135, 102, 85, 61, 46,
                 61, 72, 85, 96, 102, 116, 124, 132, 121, 77, 46, 18,
                 33, 13, 116, 110, 116, 130, 145, 138, 141, 108, 61, 22,
                 36, 46, 61, 77, 90, 113, 131, 124, 100, 77, 30, 7]
oubangui_gleam35a = [60, 65, 78, 88, 95, 98, 100, 102, 112, 115, 90, 62,
                     55, 62, 75, 85, 92, 95, 98, 100, 108, 112, 88, 60,
                     52, 60, 75, 88, 95, 98, 100, 102, 110, 115, 88, 58,
                     55, 62, 78, 88, 95, 98, 100, 102, 112, 118, 90, 60,
                     50, 58, 75, 85, 92, 95, 100, 102, 112, 118, 88, 55,
                     48, 58, 75, 88, 95, 98, 100, 102, 108, 112, 85, 55,
                     55, 62, 78, 88, 95, 98, 100, 102, 108, 115, 88, 58,
                     55, 60, 78, 88, 95, 100, 102, 105, 110, 115, 88, 58,
                     52, 58, 78, 88, 95, 98, 100, 102, 108, 112, 85, 55,
                     52, 58, 78, 88, 95, 98, 100, 102, 108, 112, 88, 58]
oubangui_gleam35b = [50, 58, 75, 88, 95, 98, 100, 105, 115, 118, 88, 55,
                     45, 55, 72, 85, 92, 95, 98, 102, 110, 115, 85, 50,
                     42, 52, 72, 88, 95, 98, 100, 105, 112, 118, 85, 48,
                     45, 55, 75, 88, 95, 98, 100, 105, 115, 120, 88, 50,
                     38, 50, 72, 85, 92, 95, 100, 105, 115, 120, 85, 45,
                     38, 50, 72, 88, 95, 98, 100, 105, 110, 115, 82, 45,
                     45, 55, 75, 88, 95, 98, 100, 105, 110, 118, 85, 48,
                     45, 52, 75, 88, 95, 100, 102, 108, 112, 118, 85, 48,
                     40, 50, 75, 88, 95, 98, 100, 105, 110, 115, 82, 45,
                     42, 50, 75, 88, 95, 98, 100, 105, 110, 115, 85, 48]
oubangui_modis = [34, 35, 45, 62, 72, 75, 78, 80, 82, 85, 70, 45,
                  40, 38, 45, 60, 72, 75, 78, 80, 82, 85, 68, 42,
                  38, 35, 45, 60, 70, 75, 78, 80, 85, 88, 70, 42,
                  38, 36, 45, 62, 72, 75, 78, 80, 85, 88, 70, 45,
                  40, 38, 45, 62, 72, 75, 78, 80, 82, 85, 65, 38,
                  35, 32, 42, 60, 70, 72, 75, 78, 82, 85, 68, 40,
                  38, 35, 45, 60, 70, 75, 78, 82, 85, 90, 65, 35,
                  30, 25, 40, 55, 68, 72, 75, 80, 85, 88, 62, 32,
                  30, 28, 40, 55, 68, 72, 75, 80, 82, 85, 60, 32,
                  35, 32, 42, 58, 70, 75, 78, 82, 85, 88, 68, 42]
oubangui_pmlv1 = [58, 62, 80, 92, 96, 98, 100, 102, 108, 110, 88, 58,
                  52, 58, 75, 88, 92, 95, 98, 100, 106, 108, 85, 55,
                  50, 55, 72, 88, 92, 95, 98, 100, 105, 110, 85, 52,
                  52, 58, 75, 88, 92, 95, 98, 100, 108, 112, 88, 55,
                  48, 55, 72, 85, 90, 95, 98, 100, 108, 112, 85, 50,
                  48, 55, 72, 88, 92, 95, 98, 100, 105, 108, 82, 50,
                  52, 58, 75, 88, 92, 95, 98, 100, 106, 110, 85, 52,
                  50, 56, 75, 88, 92, 96, 100, 102, 108, 112, 85, 52,
                  48, 55, 75, 88, 92, 95, 98, 100, 106, 110, 82, 50,
                  48, 55, 75, 88, 92, 96, 98, 100, 105, 108, 82, 52]
oubangui_pmlv2 = [82, 88, 105, 105, 102, 100, 102, 105, 112, 115, 100, 88,
                  85, 90, 102, 100, 98, 98, 100, 102, 108, 110, 98, 88,
                  82, 88, 100, 98, 98, 98, 100, 102, 108, 110, 95, 85,
                  85, 90, 102, 100, 98, 98, 100, 104, 110, 112, 98, 85,
                  82, 88, 100, 98, 96, 96, 98, 102, 108, 110, 95, 82,
                  82, 88, 100, 98, 96, 98, 100, 102, 106, 108, 92, 82,
                  82, 88, 100, 98, 98, 98, 100, 104, 108, 112, 95, 82,
                  84, 90, 102, 100, 98, 100, 102, 106, 110, 112, 95, 84,
                  80, 86, 100, 98, 98, 98, 100, 104, 108, 110, 92, 80,
                  82, 88, 100, 98, 98, 100, 102, 104, 108, 110, 95, 88]
oubangui_ssebop = [95, 118, 118, 118, 110, 105, 100, 108, 118, 115, 108, 95,
                   88, 115, 110, 118, 122, 112, 105, 110, 118, 122, 112, 95,
                   85, 112, 118, 120, 112, 108, 105, 112, 120, 118, 105, 88,
                   78, 112, 115, 118, 110, 105, 108, 112, 120, 118, 105, 90,
                   78, 108, 112, 118, 110, 105, 100, 110, 118, 118, 108, 92,
                   85, 110, 115, 118, 112, 108, 105, 112, 120, 118, 108, 92,
                   95, 120, 118, 115, 110, 108, 112, 118, 122, 118, 105, 92,
                   100, 118, 115, 120, 112, 108, 112, 118, 120, 118, 110, 95,
                   92, 112, 115, 118, 112, 108, 112, 118, 122, 118, 108, 95,
                   90, 110, 115, 118, 112, 108, 112, 115, 118, 122, 118, 122]
oubangui_cret = [12, 22, 50, 75, 88, 92, 95, 100, 110, 120, 80, 30,
                 18, 15, 52, 80, 92, 95, 100, 105, 112, 118, 75, 25,
                 15, 12, 48, 78, 92, 95, 100, 102, 110, 120, 75, 25,
                 15, 14, 50, 82, 95, 98, 102, 108, 118, 125, 80, 25,
                 12, 10, 48, 80, 95, 98, 100, 105, 115, 122, 72, 20,
                 10, 8, 45, 80, 92, 95, 100, 105, 115, 122, 72, 20,
                 12, 10, 48, 82, 95, 100, 105, 112, 122, 132, 80, 22,
                 10, 8, 45, 80, 95, 100, 105, 112, 120, 128, 75, 20,
                 12, 10, 48, 85, 98, 102, 108, 118, 125, 135, 78, 20,
                 10, 8, 45, 82, 95, 100, 105, 112, 120, 128, 75, 10]

# ---------------- Oueme ----------------
oueme_etwb = [20, 30, 27, 52, 65, 84, 101, 112, 123, 78, 40, 21,
              52, 9, 28, 43, 69, 90, 112, 121, 87, 50, 17, 23,
              12, 52, 84, 99, 93, 101, 112, 123, 101, 69, 24, 15,
              27, 37, 72, 101, 113, 75, 87, 61, 80, 50, 31, 49,
              61, 40, 46, 106, 72, 49, 66, 58, 66, 43, 28, 17,
              11, 43, 75, 97, 116, 125, 72, 99, 87, 52, 24, 14,
              28, 49, 69, 97, 107, 120, 128, 87, 69, 43, 25, 28,
              25, 50, 72, 87, 94, 128, 123, 87, 58, 28, 24, 20,
              52, 58, 61, 84, 87, 101, 116, 90, 69, 40, 28, 34,
              25, 34, 69, 101, 126, 125, 69, 63, 109, 87, 55, 25]
oueme_gleam35a = [32, 30, 52, 70, 82, 88, 95, 85, 92, 85, 60, 42,
                  38, 28, 48, 75, 82, 88, 92, 85, 95, 88, 62, 40,
                  35, 25, 45, 72, 82, 88, 92, 88, 98, 88, 60, 38,
                  38, 30, 48, 72, 80, 85, 88, 82, 92, 85, 58, 38,
                  30, 20, 40, 72, 82, 88, 92, 88, 95, 88, 58, 35,
                  28, 22, 40, 75, 85, 90, 92, 88, 98, 88, 60, 36,
                  32, 25, 45, 75, 85, 92, 95, 90, 98, 88, 60, 36,
                  30, 25, 45, 75, 85, 90, 95, 90, 98, 88, 60, 38,
                  32, 28, 48, 75, 85, 90, 95, 88, 95, 88, 60, 36,
                  30, 25, 45, 75, 85, 90, 95, 90, 98, 88, 60, 38]
oueme_gleam35b = [30, 28, 50, 72, 85, 92, 98, 88, 95, 88, 60, 40,
                  35, 25, 45, 75, 85, 90, 95, 88, 98, 90, 60, 38,
                  32, 22, 42, 72, 85, 90, 95, 90, 100, 90, 58, 35,
                  35, 28, 45, 72, 82, 88, 90, 85, 95, 88, 56, 35,
                  26, 18, 38, 72, 85, 90, 95, 90, 98, 90, 56, 32,
                  25, 18, 38, 75, 88, 92, 95, 90, 100, 90, 58, 34,
                  30, 22, 42, 75, 88, 95, 98, 92, 100, 90, 58, 34,
                  28, 22, 42, 75, 88, 92, 98, 92, 100, 90, 58, 35,
                  30, 25, 45, 75, 88, 92, 98, 90, 98, 90, 58, 34,
                  28, 22, 42, 75, 88, 92, 98, 92, 100, 90, 58, 35]
oueme_modis = [95, 102, 98, 100, 105, 108, 102, 95, 100, 98, 92, 85,
               82, 88, 95, 100, 105, 108, 100, 95, 100, 98, 92, 85,
               88, 92, 98, 102, 105, 108, 102, 95, 100, 98, 92, 88,
               85, 90, 98, 100, 104, 106, 100, 95, 100, 96, 90, 85,
               82, 88, 95, 100, 105, 108, 102, 98, 102, 98, 92, 85,
               85, 90, 98, 102, 105, 108, 102, 98, 102, 98, 92, 86,
               85, 90, 98, 102, 106, 110, 105, 98, 102, 98, 92, 85,
               82, 88, 95, 100, 106, 110, 105, 100, 102, 98, 92, 85,
               80, 85, 95, 100, 105, 108, 102, 98, 100, 96, 90, 82,
               82, 88, 98, 102, 106, 110, 105, 100, 104, 100, 95, 88]
oueme_pmlv1 = [35, 30, 60, 85, 92, 95, 100, 88, 98, 88, 55, 30,
               30, 20, 45, 80, 88, 92, 95, 88, 100, 90, 55, 28,
               28, 18, 42, 78, 88, 92, 95, 88, 102, 90, 52, 25,
               30, 22, 45, 78, 85, 88, 92, 85, 98, 88, 52, 25,
               22, 15, 38, 78, 88, 92, 96, 90, 100, 90, 52, 22,
               22, 15, 38, 80, 90, 95, 96, 90, 102, 90, 55, 24,
               25, 18, 42, 80, 90, 95, 98, 92, 100, 90, 52, 22,
               22, 18, 42, 78, 90, 95, 98, 92, 102, 90, 52, 24,
               22, 18, 42, 80, 90, 95, 98, 90, 100, 88, 50, 22,
               22, 18, 42, 78, 88, 92, 96, 90, 100, 88, 52, 24]
oueme_pmlv2 = [55, 60, 75, 85, 88, 90, 92, 85, 92, 88, 70, 58,
               55, 50, 62, 80, 85, 88, 90, 85, 92, 88, 68, 55,
               52, 48, 60, 80, 85, 88, 90, 85, 95, 88, 68, 52,
               55, 50, 62, 80, 84, 86, 88, 84, 92, 86, 66, 52,
               48, 42, 58, 80, 86, 90, 92, 88, 95, 88, 66, 50,
               48, 44, 58, 82, 88, 92, 94, 88, 96, 88, 68, 50,
               52, 46, 60, 82, 88, 92, 95, 90, 98, 90, 68, 52,
               50, 46, 60, 82, 88, 92, 96, 90, 98, 90, 68, 54,
               50, 46, 60, 82, 88, 92, 95, 88, 96, 88, 66, 52,
               52, 48, 62, 82, 88, 92, 95, 90, 98, 90, 68, 55]
oueme_ssebop = [58, 72, 90, 88, 105, 115, 130, 112, 95, 95, 85, 75,
                95, 120, 135, 115, 125, 120, 102, 98, 110, 122, 100, 88,
                90, 115, 105, 118, 100, 98, 125, 115, 95, 90, 82, 72,
                68, 70, 90, 105, 110, 125, 100, 98, 95, 88, 80, 68,
                75, 82, 102, 115, 130, 105, 98, 88, 118, 110, 95, 85,
                82, 95, 118, 120, 135, 125, 105, 110, 98, 88, 85, 78,
                72, 85, 112, 125, 118, 122, 115, 112, 98, 90, 80, 68,
                62, 90, 125, 120, 115, 130, 118, 112, 105, 95, 88, 78,
                70, 85, 100, 110, 118, 130, 115, 112, 108, 100, 92, 82,
                78, 100, 125, 118, 110, 120, 130, 110, 100, 92, 88, 80]
oueme_cret = [55, 60, 92, 115, 105, 95, 90, 88, 120, 95, 65, 48,
              45, 38, 65, 120, 108, 95, 92, 90, 118, 100, 62, 42,
              42, 36, 60, 112, 118, 105, 95, 92, 125, 108, 62, 40,
              42, 38, 58, 110, 115, 105, 98, 95, 120, 105, 60, 38,
              35, 28, 50, 115, 120, 110, 100, 98, 130, 118, 65, 35,
              32, 28, 50, 118, 125, 112, 105, 100, 132, 118, 62, 35,
              40, 32, 55, 120, 125, 115, 108, 105, 128, 118, 65, 35,
              38, 32, 55, 120, 128, 118, 110, 105, 130, 122, 68, 38,
              36, 32, 55, 118, 130, 128, 125, 110, 128, 118, 65, 35,
              35, 30, 55, 115, 128, 118, 110, 105, 125, 118, 65, 40]

basin_series = [
    [bani_etwb, bani_gleam35a, bani_gleam35b, bani_modis, bani_pmlv1, bani_pmlv2, bani_ssebop, bani_cret],
    [katsina_etwb, katsina_gleam35a, katsina_gleam35b, katsina_modis, katsina_pmlv1, katsina_pmlv2,
     katsina_ssebop, katsina_cret],
    [konkoure_etwb, konkoure_gleam35a, konkoure_gleam35b, konkoure_modis, konkoure_pmlv1, konkoure_pmlv2,
     konkoure_ssebop, konkoure_cret],
    [logone_etwb, logone_gleam35a, logone_gleam35b, logone_modis, logone_pmlv1, logone_pmlv2,
     logone_ssebop, logone_cret],
    [milo_etwb, milo_gleam35a, milo_gleam35b, milo_modis, milo_pmlv1, milo_pmlv2, milo_ssebop, milo_cret],
    [mono_etwb, mono_gleam35a, mono_gleam35b, mono_modis, mono_pmlv1, mono_pmlv2, mono_ssebop, mono_cret],
    [oubangui_etwb, oubangui_gleam35a, oubangui_gleam35b, oubangui_modis, oubangui_pmlv1, oubangui_pmlv2,
     oubangui_ssebop, oubangui_cret],
    [oueme_etwb, oueme_gleam35a, oueme_gleam35b, oueme_modis, oueme_pmlv1, oueme_pmlv2,
     oueme_ssebop, oueme_cret],
]

# line styles per product: (colour, linestyle, linewidth)
styles = {
    'ET-WB': ('black', '-', 3.5),
    'GLEAM35a': ('#1f78b4', '-.', 2.0),
    'GLEAM35b': ('#fb9a99', '-.', 2.0),
    'MODIS16A2': ('#a6cee3', (0, (6, 1.5, 1, 1.5, 1, 1.5)), 3.0),
    'PMLV1': ('#33a02c', ':', 2.5),
    'PMLV2': ('#e31a1c', '--', 2.5),
    'SSEBop': ('#fdbf6f', '-', 2.5),
    'CR-ET': ('#6a3d9a', '-.', 3.0),
}


def main():
    plt.style.use('seaborn-v0_8-whitegrid')
    plt.rcParams['font.family'] = ['Liberation Sans', 'DejaVu Sans']
    plt.rcParams['axes.edgecolor'] = '#cccccc'
    plt.rcParams['axes.linewidth'] = 2.0
    for key in ('text.color', 'axes.labelcolor', 'xtick.color', 'ytick.color'):
        plt.rcParams[key] = 'black'

    fig, axes = plt.subplots(4, 2, figsize=(20.67, 15.46), dpi=100)
    fig.subplots_adjust(left=0.038, right=0.899, bottom=0.017, top=0.979, wspace=0.2, hspace=0.2)

    year_ticks = [pd.Timestamp(f'{y}-01-01') for y in years]
    for i, ax in enumerate(axes.flat):
        for name, values in zip(products, basin_series[i]):
            color, ls, lw = styles[name]
            ax.plot(months, values, color=color, linestyle=ls, linewidth=lw, label=name)
        lo, hi = ax.get_ylim()
        if lo > 0:
            ax.set_ylim(0, hi)
        ax.set_xticks(year_ticks)
        ax.set_xticklabels([str(y) for y in years])
        ax.set_yticks(ytick_sets[i])
        ax.tick_params(labelsize=16, pad=4)
        ax.set_title(basins[i], fontsize=19.5, pad=6)
        ax.set_ylabel('Evapotranspiration (mm/month)', fontsize=16.5)
        ax.grid(True, color='#cccccc', linewidth=1.5)

    handles, labels = axes[0, 0].get_legend_handles_labels()
    fig.legend(handles, labels, loc='center left', bbox_to_anchor=(0.903, 0.4955), frameon=False,
               fontsize=16, handlelength=2.1, labelspacing=0.5, borderaxespad=0)

    fig.savefig('out.png', dpi=100)


if __name__ == "__main__":
    main()
